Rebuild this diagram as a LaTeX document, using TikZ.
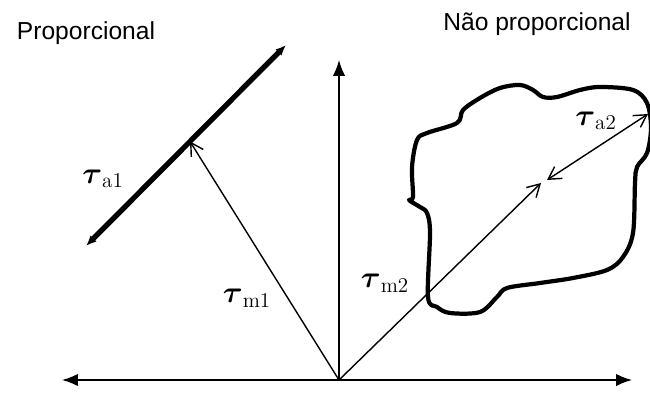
\documentclass[tikz,border=0pt]{standalone}
\usepackage{amsmath}
\usepackage{fontspec}
\setsansfont{Liberation Sans}
\usepackage{tikz}
\usetikzlibrary{positioning,arrows.meta,calc}

\tikzset{
  axis/.style={line width=0.9pt,{Latex[length=9pt,width=7pt]}-{Latex[length=9pt,width=7pt]}},
  thinvec/.style={line width=0.8pt,-{Straight Barb[length=7pt,width=8pt]}},
  thickvec/.style={line width=3pt,{Latex[length=6pt,width=5pt]}-{Latex[length=6pt,width=5pt]}},
  amp/.style={line width=0.8pt,{Straight Barb[length=7pt,width=8pt]}-{Straight Barb[length=7pt,width=8pt]}},
  blob/.style={line width=2.4pt,line join=round},
  title/.style={font=\sffamily\fontsize{14}{16}\selectfont},
  tlabel/.style={font=\LARGE}
}
\newcommand{\tauvec}[1]{$\boldsymbol{\tau}_{\mathrm{#1}}$}

\begin{document}
\begin{tikzpicture}
  \useasboundingbox (0,0) rectangle (13,7.88);
  % axes
  \coordinate (O) at (6.78,0.28);
  \coordinate (xl) at (1.24,0.28);
  \coordinate (xr) at (12.64,0.28);
  \coordinate (yt) at (6.78,6.68);
  \draw[axis](xl)--(xr);
  \draw[line width=0.9pt,-{Latex[length=9pt,width=7pt]}](O)--(yt);
  % proporcional
  \coordinate (a1s) at (1.72,2.96);
  \coordinate (a1e) at (5.72,6.98);
  \coordinate (m1) at ($(a1s)!0.52!(a1e)$);
  \draw[thickvec](a1s)--(a1e);
  \draw[thinvec](O)--(m1);
  \node[tlabel] (ta1) at (2.06,4.30){\tauvec{a1}};
  \node[tlabel] (tm1) at (4.94,1.92){\tauvec{m1}};
  % nao proporcional
  \draw[blob] plot[smooth cycle,tension=0.55] coordinates{
    (8.56,1.94)(8.74,1.74)(9.00,1.62)(9.60,1.64)(9.94,1.94)(10.14,2.12)
    (10.80,2.22)(11.46,2.32)(12.14,2.48)(12.46,2.74)(12.66,3.22)(12.70,4.22)
    (12.74,4.54)(12.94,4.82)(13.02,5.32)(12.94,5.82)(12.66,6.08)(12.00,6.14)
    (11.60,6.08)(11.14,5.94)(10.86,5.94)(10.66,6.08)(10.40,6.18)(10.00,6.12)
    (9.60,5.92)(9.26,5.68)(9.14,5.42)(8.54,5.22)(8.34,5.08)(8.24,4.54)
    (8.26,3.94)(8.18,3.88)(8.40,3.74)(8.54,3.62)(8.60,3.22)};
  \coordinate (m2) at (10.82,4.22);
  \coordinate (a2s) at (10.94,4.28);
  \coordinate (a2e) at (12.96,5.60);
  \draw[thinvec](O)--(m2);
  \draw[amp](a2s)--(a2e);
  \node[tlabel] (tm2) at (7.70,2.22){\tauvec{m2}};
  \node[tlabel] (ta2) at (11.92,5.46){\tauvec{a2}};
  % titulos
  \node[title] (prop) at (1.72,7.22){Proporcional};
  \node[title] (nprop) at (10.74,7.40){Não proporcional};
\end{tikzpicture}
\end{document}
